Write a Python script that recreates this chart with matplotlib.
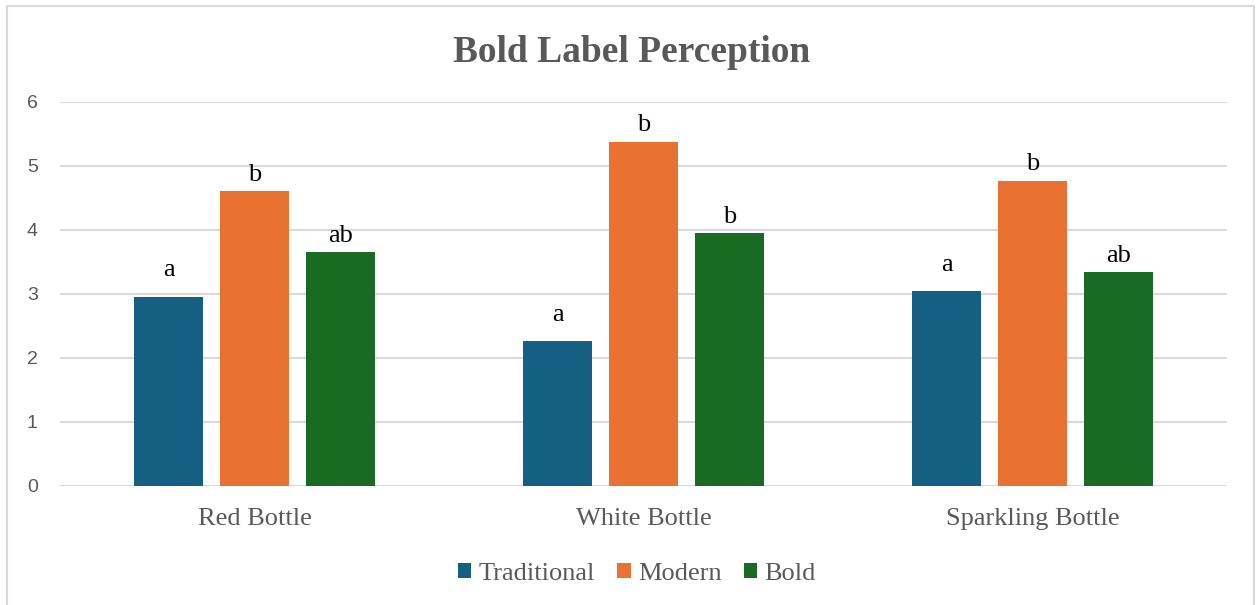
import numpy as np
import matplotlib.pyplot as plt
from matplotlib.patches import Rectangle

categories = ["Red Bottle", "White Bottle", "Sparkling Bottle"]
series = ["Traditional", "Modern", "Bold"]
traditional = [2.96, 2.27, 3.04]
modern = [4.61, 5.38, 4.77]
bold = [3.65, 3.95, 3.34]
letters_traditional = ["a", "a", "a"]
letters_modern = ["b", "b", "b"]
letters_bold = ["ab", "b", "ab"]

colors = ["#156082", "#E97132", "#196B24"]
grey = "#595959"
serif = ["Liberation Serif", "DejaVu Serif"]
sans = ["Liberation Sans", "DejaVu Sans"]

fig = plt.figure(figsize=(12.56, 6.05), dpi=100)
ax = fig.add_axes([60 / 1256, 1 - 486 / 605, 1167 / 1256, 384 / 605])

# outer chart frame
fig.patches.append(Rectangle((7 / 1256, -0.01), 1247 / 1256, 1 - 6 / 605 + 0.01,
                             transform=fig.transFigure, fill=False,
                             edgecolor="#d9d9d9", linewidth=1.5))

x = np.arange(len(categories))
width = 0.175
step = 0.221
values = [traditional, modern, bold]
letters = [letters_traditional, letters_modern, letters_bold]
# the "a" labels sit a little higher than the others
offsets = [14.5, 7.5, 7.5]

for i in range(3):
    pos = x + (i - 1) * step
    bars = ax.bar(pos, values[i], width, color=colors[i], label=series[i], zorder=3)
    for b, lab in zip(bars, letters[i]):
        ax.annotate(lab, (b.get_x() + b.get_width() / 2, b.get_height()),
                    xytext=(0, offsets[i]), textcoords="offset points", ha="center",
                    va="baseline", fontsize=19, family=serif, color="black")

ax.set_xlim(-0.5, 2.5)
ax.set_ylim(0, 6)
ax.set_yticks(range(7))
ax.set_xticks(x)
ax.set_xticklabels(categories, family=serif, fontsize=19, color=grey)
for t in ax.get_yticklabels():
    t.set_family(sans)
    t.set_fontsize(14)
    t.set_color(grey)
ax.tick_params(axis="both", length=0)
ax.tick_params(axis="x", pad=16)
ax.tick_params(axis="y", pad=16)
ax.grid(axis="y", color="#d9d9d9", linewidth=1.5, zorder=0)
for s in ax.spines.values():
    s.set_visible(False)

fig.text(632 / 1256, 1 - 52 / 605, "Bold Label Perception", ha="center", va="center",
         fontsize=27, fontweight="bold", family=serif, color=grey)

fig.legend(loc="center", bbox_to_anchor=(637 / 1256, 1 - 574 / 605), ncol=3,
           frameon=False, prop={"family": serif, "size": 19}, labelcolor=grey,
           handlelength=0.5, handleheight=0.5, handletextpad=0.28, columnspacing=0.85)

fig.savefig("out.png", dpi=100)
